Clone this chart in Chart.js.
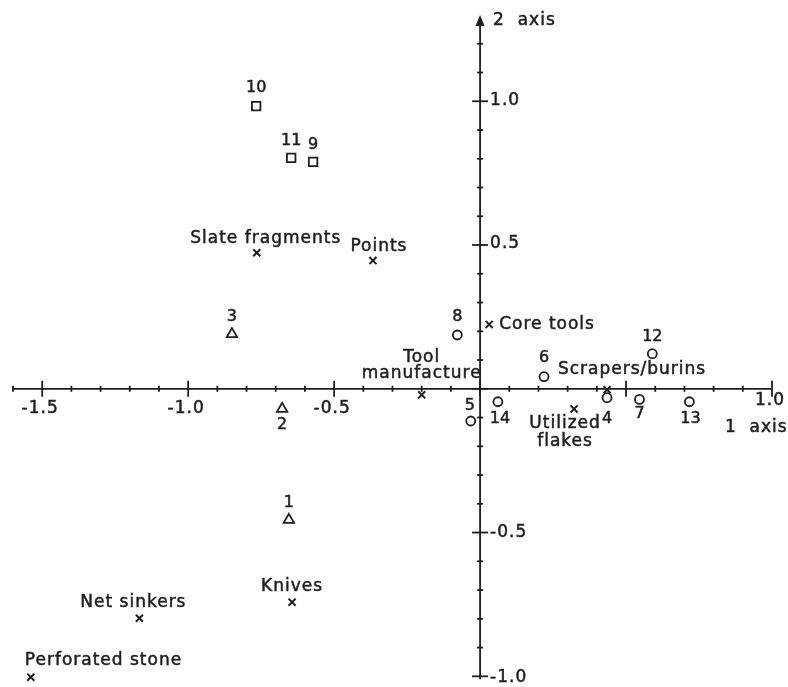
<!DOCTYPE html>
<html>
<head>
<meta charset="utf-8">
<title>Correspondence analysis: artefact types and sites</title>
<script src="https://cdn.jsdelivr.net/npm/chart.js@4/dist/chart.umd.min.js"></script>
<style>
  html, body { margin: 0; padding: 0; background: #fff; }
  #wrap { position: relative; width: 788px; height: 687px; }
</style>
</head>
<body>
<div id="wrap"><canvas id="plot"></canvas></div>
<script>
// Artefact types (column points)
const artefactNames = ['Slate fragments', 'Points', 'Core tools', 'Tool manufacture',
  'Scrapers/burins', 'Utilized flakes', 'Knives', 'Net sinkers', 'Perforated stone'];
const artefactAxis1 = [-0.765, -0.367, 0.031, -0.200, 0.435, 0.322, -0.644, -1.167, -1.539];
const artefactAxis2 = [0.473, 0.446, 0.224, -0.021, -0.003, -0.070, -0.742, -0.798, -1.003];

// Sites shown as circles
const circleSites = ['4', '5', '6', '7', '8', '12', '13', '14'];
const circleAxis1 = [0.435, -0.032, 0.219, 0.546, -0.078, 0.590, 0.717, 0.061];
const circleAxis2 = [-0.031, -0.112, 0.042, -0.037, 0.187, 0.122, -0.045, -0.045];

// Sites shown as squares
const squareSites = ['9', '10', '11'];
const squareAxis1 = [-0.572, -0.767, -0.647];
const squareAxis2 = [0.789, 0.983, 0.803];

// Sites shown as triangles
const triangleSites = ['1', '2', '3'];
const triangleAxis1 = [-0.655, -0.678, -0.850];
const triangleAxis2 = [-0.456, -0.070, 0.190];

// Axis tick labels
const axis1TickValues = [-1.5, -1.0, -0.5, 1.0];
const axis1TickLabels = ['-1.5', '-1.0', '-0.5', '1.0'];
const axis2TickValues = [1.0, 0.5, -0.5, -1.0];
const axis2TickLabels = ['1.0', '0.5', '-0.5', '-1.0'];
const axis1Title = '1  axis';
const axis2Title = '2  axis';

const INK = '#1e1e1e';
const FONT = '"DejaVu Sans", sans-serif';

const toPoints = (xs, ys) => xs.map((v, i) => ({ x: v, y: ys[i] }));

// Where each label sits relative to its marker (pixels)
const textPlacement = {
  'Slate fragments':  { dx: 9,  dy: -14 },
  'Points':           { dx: 6,  dy: -14 },
  'Core tools':       { dx: 10, dy: 0, align: 'left' },
  'Tool manufacture': { dx: 0,  dy: -37, wrap: true, gap: 16 },
  'Scrapers/burins':  { dx: 25, dy: -20 },
  'Utilized flakes':  { dx: -9, dy: 15, wrap: true, gap: 18 },
  'Knives':           { dx: 0,  dy: -16 },
  'Net sinkers':      { dx: -6, dy: -16 },
  'Perforated stone': { dx: -6, dy: -17, align: 'left' }
};
const numberPlacement = {
  '2':  { dx: 0, dy: 16 },
  '4':  { dx: 0, dy: 21 },
  '7':  { dx: 0, dy: 14 },
  '13': { dx: 1, dy: 17 },
  '14': { dx: 2, dy: 17 },
  '5':  { dx: -1, dy: -15 },
  '6':  { dx: 0, dy: -19 },
  '10': { dx: 0, dy: -18 },
  '8':  { dx: 0, dy: -18 }
};

function line(ctx, x1, y1, x2, y2) {
  ctx.beginPath();
  ctx.moveTo(x1, y1);
  ctx.lineTo(x2, y2);
  ctx.stroke();
}

// Lettering with a slightly heavier stroke
function letter(ctx, text, x, y) {
  ctx.fillText(text, x, y);
  ctx.strokeText(text, x, y);
}

// Crossed axes through the origin, with 0.1 minor and 0.5 major ticks
const crossAxes = {
  id: 'crossAxes',
  beforeDatasetsDraw(chart) {
    const { ctx, scales: { x, y } } = chart;
    const x0 = x.getPixelForValue(0);
    const y0 = y.getPixelForValue(0);
    ctx.save();
    ctx.strokeStyle = INK;
    ctx.fillStyle = INK;
    ctx.lineWidth = 1.8;

    // axis 1
    line(ctx, x.getPixelForValue(x.min), y0, x.getPixelForValue(x.max), y0);
    for (let i = Math.round(x.min * 10); i <= Math.round(x.max * 10); i++) {
      const px = x.getPixelForValue(i / 10);
      const len = i % 5 === 0 ? 8 : 3;
      line(ctx, px, y0 - len, px, y0 + len);
    }

    // axis 2 with arrow head
    const top = y.getPixelForValue(y.max);
    line(ctx, x0, y.getPixelForValue(y.min), x0, top + 6);
    ctx.beginPath();
    ctx.moveTo(x0, top);
    ctx.lineTo(x0 - 4.5, top + 11);
    ctx.lineTo(x0 + 4.5, top + 11);
    ctx.closePath();
    ctx.fill();
    for (let i = -10; i <= 12; i++) {
      const py = y.getPixelForValue(i / 10);
      const len = i % 5 === 0 ? 8 : 3;
      line(ctx, x0 - len, py, x0 + len, py);
    }

    // tick labels
    ctx.lineWidth = 0.5;
    ctx.font = '17px ' + FONT;
    ctx.letterSpacing = '1px';
    ctx.textBaseline = 'middle';
    ctx.textAlign = 'center';
    axis1TickValues.forEach((v, i) => {
      const px = x.getPixelForValue(v);
      const dy = v > 0 ? 12 : 20;
      letter(ctx, axis1TickLabels[i], px - 2, y0 + dy);
    });
    ctx.textAlign = 'left';
    axis2TickValues.forEach((v, i) => {
      const py = y.getPixelForValue(v);
      const dy = v <= -1 ? 1 : (v > 0 ? -1 : 0);
      letter(ctx, axis2TickLabels[i], x0 + 10, py + dy);
    });

    // axis titles
    letter(ctx, axis1Title, x.getPixelForValue(x.max) - 47, y0 + 39);
    letter(ctx, axis2Title, x0 + 13, top + 6);
    ctx.restore();
  },
  afterDatasetsDraw(chart) {
    const { ctx } = chart;
    ctx.save();
    ctx.fillStyle = INK;
    ctx.strokeStyle = INK;
    ctx.lineWidth = 0.5;
    ctx.textBaseline = 'middle';

    // artefact type names
    ctx.font = '17px ' + FONT;
    ctx.letterSpacing = '1px';
    chart.getDatasetMeta(0).data.forEach((el, i) => {
      const name = artefactNames[i];
      const p = textPlacement[name] || { dx: 0, dy: -16 };
      ctx.textAlign = p.align || 'center';
      const lines = p.wrap ? name.split(' ') : [name];
      lines.forEach((t, k) => letter(ctx, t, el.x + p.dx, el.y + p.dy + k * (p.gap || 0)));
    });

    // site numbers
    ctx.font = '16px ' + FONT;
    ctx.letterSpacing = '0px';
    ctx.textAlign = 'center';
    const siteLists = [null, circleSites, squareSites, triangleSites];
    for (let d = 1; d <= 3; d++) {
      chart.getDatasetMeta(d).data.forEach((el, i) => {
        const id = siteLists[d][i];
        const p = numberPlacement[id] || { dx: 0, dy: -17 };
        letter(ctx, id, el.x + p.dx, el.y + p.dy);
      });
    }
    ctx.restore();
  }
};

const markerBase = {
  borderColor: INK,
  backgroundColor: '#fff',
  borderWidth: 1.8,
  hoverRadius: 5,
  clip: false
};

new Chart(document.getElementById('plot'), {
  type: 'scatter',
  data: {
    datasets: [
      Object.assign({}, markerBase, { label: 'Artefact types', data: toPoints(artefactAxis1, artefactAxis2),
        pointStyle: 'crossRot', pointRadius: 5, borderWidth: 2, backgroundColor: INK }),
      Object.assign({}, markerBase, { label: 'Sites (circles)', data: toPoints(circleAxis1, circleAxis2),
        pointStyle: 'circle', pointRadius: 4.5 }),
      Object.assign({}, markerBase, { label: 'Sites (squares)', data: toPoints(squareAxis1, squareAxis2),
        pointStyle: 'rect', pointRadius: 6 }),
      Object.assign({}, markerBase, { label: 'Sites (triangles)', data: toPoints(triangleAxis1, triangleAxis2),
        pointStyle: 'triangle', pointRadius: 6 })
    ]
  },
  options: {
    responsive: true,
    maintainAspectRatio: false,
    animation: false,
    events: [],
    layout: { padding: { left: 13, right: 16, top: 15, bottom: 0 } },
    plugins: { legend: { display: false }, tooltip: { enabled: false } },
    scales: {
      x: { type: 'linear', min: -1.6, max: 1.0, display: false },
      y: { type: 'linear', min: -1.01, max: 1.30, display: false }
    }
  },
  plugins: [crossAxes]
});
</script>
</body>
</html>
